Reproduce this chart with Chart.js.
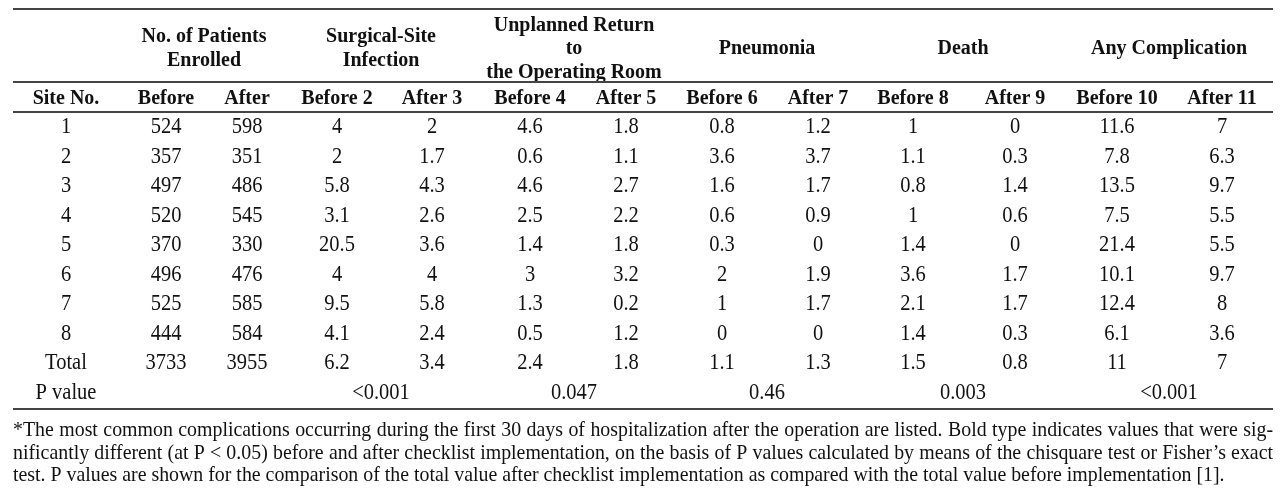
<!DOCTYPE html>
<html>
<head>
<meta charset="utf-8">
<script src="https://cdn.jsdelivr.net/npm/chart.js@4.4.1/dist/chart.umd.min.js"></script>
<style>
  html, body { margin: 0; padding: 0; background: #fff; }
  canvas { display: block; }
</style>
</head>
<body>
<canvas id="tableChart" width="1284" height="497"></canvas>
<script>
// table values
const siteLabels = ['1', '2', '3', '4', '5', '6', '7', '8', 'Total'];
const enrolledBefore = [524, 357, 497, 520, 370, 496, 525, 444, 3733];
const enrolledAfter = [598, 351, 486, 545, 330, 476, 585, 584, 3955];
const infectionBefore = [4, 2, 5.8, 3.1, 20.5, 4, 9.5, 4.1, 6.2];
const infectionAfter = [2, 1.7, 4.3, 2.6, 3.6, 4, 5.8, 2.4, 3.4];
const returnBefore = [4.6, 0.6, 4.6, 2.5, 1.4, 3, 1.3, 0.5, 2.4];
const returnAfter = [1.8, 1.1, 2.7, 2.2, 1.8, 3.2, 0.2, 1.2, 1.8];
const pneumoniaBefore = [0.8, 3.6, 1.6, 0.6, 0.3, 2, 1, 0, 1.1];
const pneumoniaAfter = [1.2, 3.7, 1.7, 0.9, 0, 1.9, 1.7, 0, 1.3];
const deathBefore = [1, 1.1, 0.8, 1, 1.4, 3.6, 2.1, 1.4, 1.5];
const deathAfter = [0, 0.3, 1.4, 0.6, 0, 1.7, 1.7, 0.3, 0.8];
const anyBefore = [11.6, 7.8, 13.5, 7.5, 21.4, 10.1, 12.4, 6.1, 11];
const anyAfter = [7, 6.3, 9.7, 5.5, 5.5, 9.7, 8, 3.6, 7];

const columnLabels = ['Site No.', 'Before', 'After', 'Before 2', 'After 3', 'Before 4', 'After 5',
  'Before 6', 'After 7', 'Before 8', 'After 9', 'Before 10', 'After 11'];
const groupTitles = [
  ['No. of Patients', 'Enrolled'],
  ['Surgical-Site', 'Infection'],
  ['Unplanned Return', 'to', 'the Operating Room'],
  ['Pneumonia'],
  ['Death'],
  ['Any Complication']
];
const pLabel = 'P value';
const pValues = ['<0.001', '0.047', '0.46', '0.003', '<0.001'];  // under groups 2..6

const footnote = [
  '*The most common complications occurring during the first 30 days of hospitalization after the operation are listed. Bold type indicates values that were sig-',
  'nificantly different (at P < 0.05) before and after checklist implementation, on the basis of P values calculated by means of the chisquare test or Fisher\u2019s exact',
  'test. P values are shown for the comparison of the total value after checklist implementation as compared with the total value before implementation [1].'
];

// layout (x in scale units across the page, y in row units)
const colCenters = [66, 166, 247, 337, 432, 530, 626, 722, 818, 913, 1015, 1117, 1222];
const groupCenters = [204, 381, 574, 767, 963, 1169];
const tableLeft = 13, tableRight = 1273;
const headerMid = -2.68, headerGap = 0.8;
const ruleRows = [-4.02, -1.54, -0.52, 9.54];
const footBaselines = [10.47, 11.23, 11.98];
const footLastWidth = 1213;
const stretch = 1.1;   // the original type is a little tall for its width

const serif = '"Liberation Serif", "Times New Roman", serif';
const ink = '#111';

const columns = [siteLabels, enrolledBefore, enrolledAfter, infectionBefore, infectionAfter,
  returnBefore, returnAfter, pneumoniaBefore, pneumoniaAfter, deathBefore, deathAfter, anyBefore, anyAfter];

const datasets = columns.map((vals, c) => ({
  label: columnLabels[c],
  texts: vals.map(String),
  data: vals.map((v, i) => ({ x: colCenters[c], y: i })),
  pointRadius: 0,
  showLine: false
}));

function tallText(ctx, text, px, py) {
  ctx.save();
  ctx.translate(px, py);
  ctx.scale(1, stretch);
  ctx.fillText(text, 0, 0);
  ctx.restore();
}

function justify(ctx, text, left, width, y) {
  const words = text.split(' ');
  const total = words.reduce((s, w) => s + ctx.measureText(w).width, 0);
  const gap = (width - total) / (words.length - 1);
  let pos = left;
  words.forEach(w => {
    tallText(ctx, w, pos, y);
    pos += ctx.measureText(w).width + gap;
  });
}

const tablePlugin = {
  id: 'tableText',
  afterDatasetsDraw(chart) {
    const { ctx, scales: { x, y } } = chart;
    ctx.save();
    ctx.fillStyle = ink;
    ctx.textAlign = 'center';
    ctx.textBaseline = 'middle';

    // body cells
    ctx.font = '20.5px ' + serif;
    chart.data.datasets.forEach((ds, di) => {
      chart.getDatasetMeta(di).data.forEach((pt, i) => {
        tallText(ctx, ds.texts[i], pt.x, pt.y);
      });
    });
    tallText(ctx, pLabel, x.getPixelForValue(colCenters[0]), y.getPixelForValue(siteLabels.length));
    pValues.forEach((p, g) => {
      tallText(ctx, p, x.getPixelForValue(groupCenters[g + 1]), y.getPixelForValue(siteLabels.length));
    });

    // headers
    ctx.font = 'bold 20px ' + serif;
    columnLabels.forEach((lab, c) => {
      tallText(ctx, lab, x.getPixelForValue(colCenters[c]), y.getPixelForValue(-1));
    });
    groupTitles.forEach((lines, g) => {
      const first = headerMid - headerGap * (lines.length - 1) / 2;
      lines.forEach((t, k) => {
        tallText(ctx, t, x.getPixelForValue(groupCenters[g]), y.getPixelForValue(first + k * headerGap));
      });
    });

    // rules
    ctx.strokeStyle = '#444';
    ctx.lineWidth = 2;
    ruleRows.forEach(r => {
      const py = Math.round(y.getPixelForValue(r));
      ctx.beginPath();
      ctx.moveTo(x.getPixelForValue(tableLeft), py);
      ctx.lineTo(x.getPixelForValue(tableRight), py);
      ctx.stroke();
    });

    // footnote
    ctx.font = '16px ' + serif;
    const size = 16 * footLastWidth / ctx.measureText(footnote[2]).width;
    ctx.font = size.toFixed(2) + 'px ' + serif;
    ctx.textAlign = 'left';
    ctx.textBaseline = 'alphabetic';
    const left = x.getPixelForValue(tableLeft);
    const width = x.getPixelForValue(tableRight) - left;
    footnote.forEach((line, k) => {
      const py = y.getPixelForValue(footBaselines[k]);
      if (k < footnote.length - 1) justify(ctx, line, left, width, py);
      else tallText(ctx, line, left, py);
    });
    ctx.restore();
  }
};

new Chart(document.getElementById('tableChart'), {
  type: 'scatter',
  data: { datasets },
  plugins: [tablePlugin],
  options: {
    responsive: false,
    animation: false,
    events: [],
    layout: { padding: 0 },
    plugins: { legend: { display: false }, tooltip: { enabled: false } },
    scales: {
      x: { type: 'linear', display: false, min: 0, max: 1284 },
      y: { type: 'linear', display: false, reverse: true, min: -4.322, max: 12.525 }
    }
  }
});
</script>
</body>
</html>
